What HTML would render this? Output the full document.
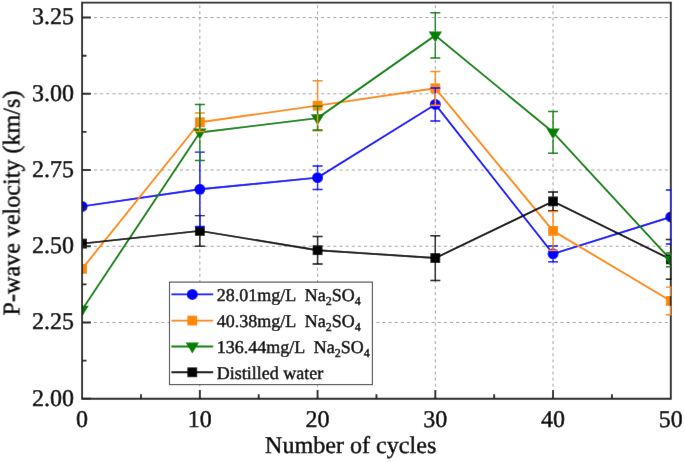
<!DOCTYPE html>
<html><head><meta charset="utf-8"><style>
html,body{margin:0;padding:0;background:#fff;}
svg{display:block;}
text{font-family:"Liberation Serif",serif;fill:#000;stroke:#000;stroke-width:0.45px;text-rendering:geometricPrecision;}
</style></head><body>
<svg width="685" height="462" viewBox="0 0 685 462">
<defs><filter id="bl" x="0" y="0" width="685" height="462" filterUnits="userSpaceOnUse"><feConvolveMatrix order="3" kernelMatrix="0.0019 0.0439 0.0019 0.0439 1.0000 0.0439 0.0019 0.0439 0.0019" divisor="1.1835" edgeMode="duplicate"/></filter><clipPath id="pc"><rect x="82.10" y="2.60" width="588.70" height="396.10"/></clipPath>
<clipPath id="ec"><rect x="82.10" y="2.60" width="589.50" height="396.10"/></clipPath></defs>
<g filter="url(#bl)"><rect width="685" height="462" fill="#fff"/>
<g stroke="#a0a0a0" stroke-width="1" fill="none"><line x1="82.10" y1="322.48" x2="670.80" y2="322.48" stroke-dasharray="3 3.138" stroke-dashoffset="0.376"/><line x1="82.10" y1="246.25" x2="670.80" y2="246.25" stroke-dasharray="3 3.138" stroke-dashoffset="0.376"/><line x1="82.10" y1="170.03" x2="670.80" y2="170.03" stroke-dasharray="3 3.138" stroke-dashoffset="0.376"/><line x1="82.10" y1="93.80" x2="670.80" y2="93.80" stroke-dasharray="3 3.138" stroke-dashoffset="0.376"/><line x1="82.10" y1="17.57" x2="670.80" y2="17.57" stroke-dasharray="3 3.138" stroke-dashoffset="0.376"/><line x1="199.84" y1="2.60" x2="199.84" y2="398.70" stroke-dasharray="3 3.106" stroke-dashoffset="3.506"/><line x1="317.58" y1="2.60" x2="317.58" y2="398.70" stroke-dasharray="3 3.106" stroke-dashoffset="3.506"/><line x1="435.32" y1="2.60" x2="435.32" y2="398.70" stroke-dasharray="3 3.106" stroke-dashoffset="3.506"/><line x1="553.06" y1="2.60" x2="553.06" y2="398.70" stroke-dasharray="3 3.106" stroke-dashoffset="3.506"/></g>
<g clip-path="url(#pc)" fill="none" stroke-width="1.9" stroke-linejoin="round"><path d="M82.10 206.40 L199.84 189.30 L317.58 177.65 L435.32 104.45 L553.06 253.85 L670.80 216.95" stroke="#0000ff"/><path d="M82.10 268.80 L199.84 122.25 L317.58 105.65 L435.32 88.30 L553.06 230.90 L670.80 300.95" stroke="#ff8800"/><path d="M82.10 309.70 L199.84 132.45 L317.58 118.15 L435.32 35.40 L553.06 132.35 L670.80 259.85" stroke="#008000"/><path d="M82.10 243.60 L199.84 230.90 L317.58 250.20 L435.32 258.05 L553.06 201.40 L670.80 259.35" stroke="#000000"/></g>
<g clip-path="url(#pc)"><circle cx="82.10" cy="206.40" r="5.5" fill="#0000ff"/><circle cx="199.84" cy="189.30" r="5.5" fill="#0000ff"/><circle cx="317.58" cy="177.65" r="5.5" fill="#0000ff"/><circle cx="435.32" cy="104.45" r="5.5" fill="#0000ff"/><circle cx="553.06" cy="253.85" r="5.5" fill="#0000ff"/><circle cx="670.80" cy="216.95" r="5.5" fill="#0000ff"/><rect x="77.20" y="263.90" width="9.8" height="9.8" fill="#ff8800"/><rect x="194.94" y="117.35" width="9.8" height="9.8" fill="#ff8800"/><rect x="312.68" y="100.75" width="9.8" height="9.8" fill="#ff8800"/><rect x="430.42" y="83.40" width="9.8" height="9.8" fill="#ff8800"/><rect x="548.16" y="226.00" width="9.8" height="9.8" fill="#ff8800"/><rect x="665.90" y="296.05" width="9.8" height="9.8" fill="#ff8800"/><rect x="77.20" y="238.70" width="9.8" height="9.8" fill="#000000"/><rect x="194.94" y="226.00" width="9.8" height="9.8" fill="#000000"/><rect x="312.68" y="245.30" width="9.8" height="9.8" fill="#000000"/><rect x="430.42" y="253.15" width="9.8" height="9.8" fill="#000000"/><rect x="548.16" y="196.50" width="9.8" height="9.8" fill="#000000"/><rect x="665.90" y="254.45" width="9.8" height="9.8" fill="#000000"/><path d="M75.40 305.80L88.80 305.80L82.10 316.70Z" fill="#008000"/><path d="M193.14 128.55L206.54 128.55L199.84 139.45Z" fill="#008000"/><path d="M310.88 114.25L324.28 114.25L317.58 125.15Z" fill="#008000"/><path d="M428.62 31.50L442.02 31.50L435.32 42.40Z" fill="#008000"/><path d="M546.36 128.45L559.76 128.45L553.06 139.35Z" fill="#008000"/><path d="M664.10 255.95L677.50 255.95L670.80 266.85Z" fill="#008000"/></g>
<path d="M82.10 2.60 L670.80 2.60 L670.80 398.70 L82.10 398.70 Z" fill="none" stroke="#222" stroke-width="1.9"/><path d="M140.97 398.70 L140.97 394.30 M199.84 398.70 L199.84 389.90 M258.71 398.70 L258.71 394.30 M317.58 398.70 L317.58 389.90 M376.45 398.70 L376.45 394.30 M435.32 398.70 L435.32 389.90 M494.19 398.70 L494.19 394.30 M553.06 398.70 L553.06 389.90 M611.93 398.70 L611.93 394.30 M82.10 360.59 L86.50 360.59 M82.10 322.48 L90.90 322.48 M82.10 284.36 L86.50 284.36 M82.10 246.25 L90.90 246.25 M82.10 208.14 L86.50 208.14 M82.10 170.03 L90.90 170.03 M82.10 131.91 L86.50 131.91 M82.10 93.80 L90.90 93.80 M82.10 55.69 L86.50 55.69 M82.10 17.57 L90.90 17.57 M82.10 398.70 L90.90 398.70" stroke="#222" stroke-width="1.9" fill="none"/>
<g clip-path="url(#ec)" fill="none" stroke-width="1.45"><path d="M199.84 215.60 L199.84 226.00 M199.84 235.80 L199.84 246.20 M194.84 215.60 L204.84 215.60 M194.84 246.20 L204.84 246.20 M317.58 236.40 L317.58 245.30 M317.58 255.10 L317.58 264.00 M312.58 236.40 L322.58 236.40 M312.58 264.00 L322.58 264.00 M435.32 235.70 L435.32 253.15 M435.32 262.95 L435.32 280.40 M430.32 235.70 L440.32 235.70 M430.32 280.40 L440.32 280.40 M553.06 192.00 L553.06 196.50 M553.06 206.30 L553.06 210.80 M548.06 192.00 L558.06 192.00 M548.06 210.80 L558.06 210.80 M670.80 239.50 L670.80 254.45 M670.80 264.25 L670.80 279.20 M665.80 239.50 L675.80 239.50 M665.80 279.20 L675.80 279.20" stroke="#000000"/><path d="M199.84 152.10 L199.84 183.80 M199.84 194.80 L199.84 226.50 M194.84 152.10 L204.84 152.10 M194.84 226.50 L204.84 226.50 M317.58 165.90 L317.58 172.15 M317.58 183.15 L317.58 189.40 M312.58 165.90 L322.58 165.90 M312.58 189.40 L322.58 189.40 M435.32 88.00 L435.32 98.95 M435.32 109.95 L435.32 120.90 M430.32 88.00 L440.32 88.00 M430.32 120.90 L440.32 120.90 M553.06 245.90 L553.06 248.35 M553.06 259.35 L553.06 261.80 M548.06 245.90 L558.06 245.90 M548.06 261.80 L558.06 261.80 M670.80 190.00 L670.80 211.45 M670.80 222.45 L670.80 243.90 M665.80 190.00 L675.80 190.00 M665.80 243.90 L675.80 243.90" stroke="#0000ff"/><path d="M199.84 112.90 L199.84 117.35 M199.84 127.15 L199.84 131.60 M194.84 112.90 L204.84 112.90 M194.84 131.60 L204.84 131.60 M317.58 80.65 L317.58 100.75 M317.58 110.55 L317.58 130.65 M312.58 80.65 L322.58 80.65 M312.58 130.65 L322.58 130.65 M435.32 71.40 L435.32 83.40 M435.32 93.20 L435.32 105.20 M430.32 71.40 L440.32 71.40 M430.32 105.20 L440.32 105.20 M553.06 211.60 L553.06 226.00 M553.06 235.80 L553.06 250.20 M548.06 211.60 L558.06 211.60 M548.06 250.20 L558.06 250.20 M670.80 287.10 L670.80 296.05 M670.80 305.85 L670.80 314.80 M665.80 287.10 L675.80 287.10 M665.80 314.80 L675.80 314.80" stroke="#ff8800"/><path d="M199.84 104.45 L199.84 128.55 M199.84 139.45 L199.84 160.45 M194.84 104.45 L204.84 104.45 M194.84 160.45 L204.84 160.45 M317.58 106.30 L317.58 114.25 M317.58 125.15 L317.58 130.00 M312.58 106.30 L322.58 106.30 M312.58 130.00 L322.58 130.00 M435.32 12.80 L435.32 31.50 M435.32 42.40 L435.32 58.00 M430.32 12.80 L440.32 12.80 M430.32 58.00 L440.32 58.00 M553.06 111.40 L553.06 128.45 M553.06 139.35 L553.06 153.30 M548.06 111.40 L558.06 111.40 M548.06 153.30 L558.06 153.30 M670.80 252.90 L670.80 255.95 M665.80 252.90 L675.80 252.90 M665.80 266.80 L675.80 266.80" stroke="#008000"/></g>
<rect x="169.5" y="282.1" width="202.90" height="102.50" fill="#fff" stroke="#444" stroke-width="1.1"/><line x1="171.4" y1="294.4" x2="213.2" y2="294.4" stroke="#0000ff" stroke-width="1.9"/><circle cx="192.30" cy="294.40" r="5.5" fill="#0000ff"/><text x="216.8" y="300.60" font-size="18" xml:space="preserve">28.01mg/L  Na<tspan font-size="12" dy="4">2</tspan><tspan dy="-4">SO</tspan><tspan font-size="12" dy="4">4</tspan></text><line x1="171.4" y1="320.6" x2="213.2" y2="320.6" stroke="#ff8800" stroke-width="1.9"/><rect x="187.40" y="315.70" width="9.8" height="9.8" fill="#ff8800"/><text x="216.8" y="326.80" font-size="18" xml:space="preserve">40.38mg/L  Na<tspan font-size="12" dy="4">2</tspan><tspan dy="-4">SO</tspan><tspan font-size="12" dy="4">4</tspan></text><line x1="171.4" y1="346.5" x2="213.2" y2="346.5" stroke="#008000" stroke-width="1.9"/><path d="M185.60 342.60L199.00 342.60L192.30 353.50Z" fill="#008000"/><text x="216.8" y="352.70" font-size="18" xml:space="preserve">136.44mg/L  Na<tspan font-size="12" dy="4">2</tspan><tspan dy="-4">SO</tspan><tspan font-size="12" dy="4">4</tspan></text><line x1="171.4" y1="372.3" x2="213.2" y2="372.3" stroke="#000000" stroke-width="1.9"/><rect x="187.40" y="367.40" width="9.8" height="9.8" fill="#000000"/><text x="216.8" y="378.50" font-size="18">Distilled water</text>
<text x="74.0" y="405.60" font-size="24" text-anchor="end">2.00</text><text x="74.0" y="329.38" font-size="24" text-anchor="end">2.25</text><text x="74.0" y="253.15" font-size="24" text-anchor="end">2.50</text><text x="74.0" y="176.93" font-size="24" text-anchor="end">2.75</text><text x="74.0" y="100.70" font-size="24" text-anchor="end">3.00</text><text x="74.0" y="24.47" font-size="24" text-anchor="end">3.25</text><text x="82.10" y="427.3" font-size="24" text-anchor="middle">0</text><text x="199.84" y="427.3" font-size="24" text-anchor="middle">10</text><text x="317.58" y="427.3" font-size="24" text-anchor="middle">20</text><text x="435.32" y="427.3" font-size="24" text-anchor="middle">30</text><text x="553.06" y="427.3" font-size="24" text-anchor="middle">40</text><text x="670.80" y="427.3" font-size="24" text-anchor="middle">50</text><text x="350.7" y="452.6" font-size="24.1" text-anchor="middle">Number of cycles</text><text transform="translate(19.4 203.05) rotate(-90)" font-size="24.1" text-anchor="middle">P-wave velocity (km/s)</text>
</g></svg></body></html>
